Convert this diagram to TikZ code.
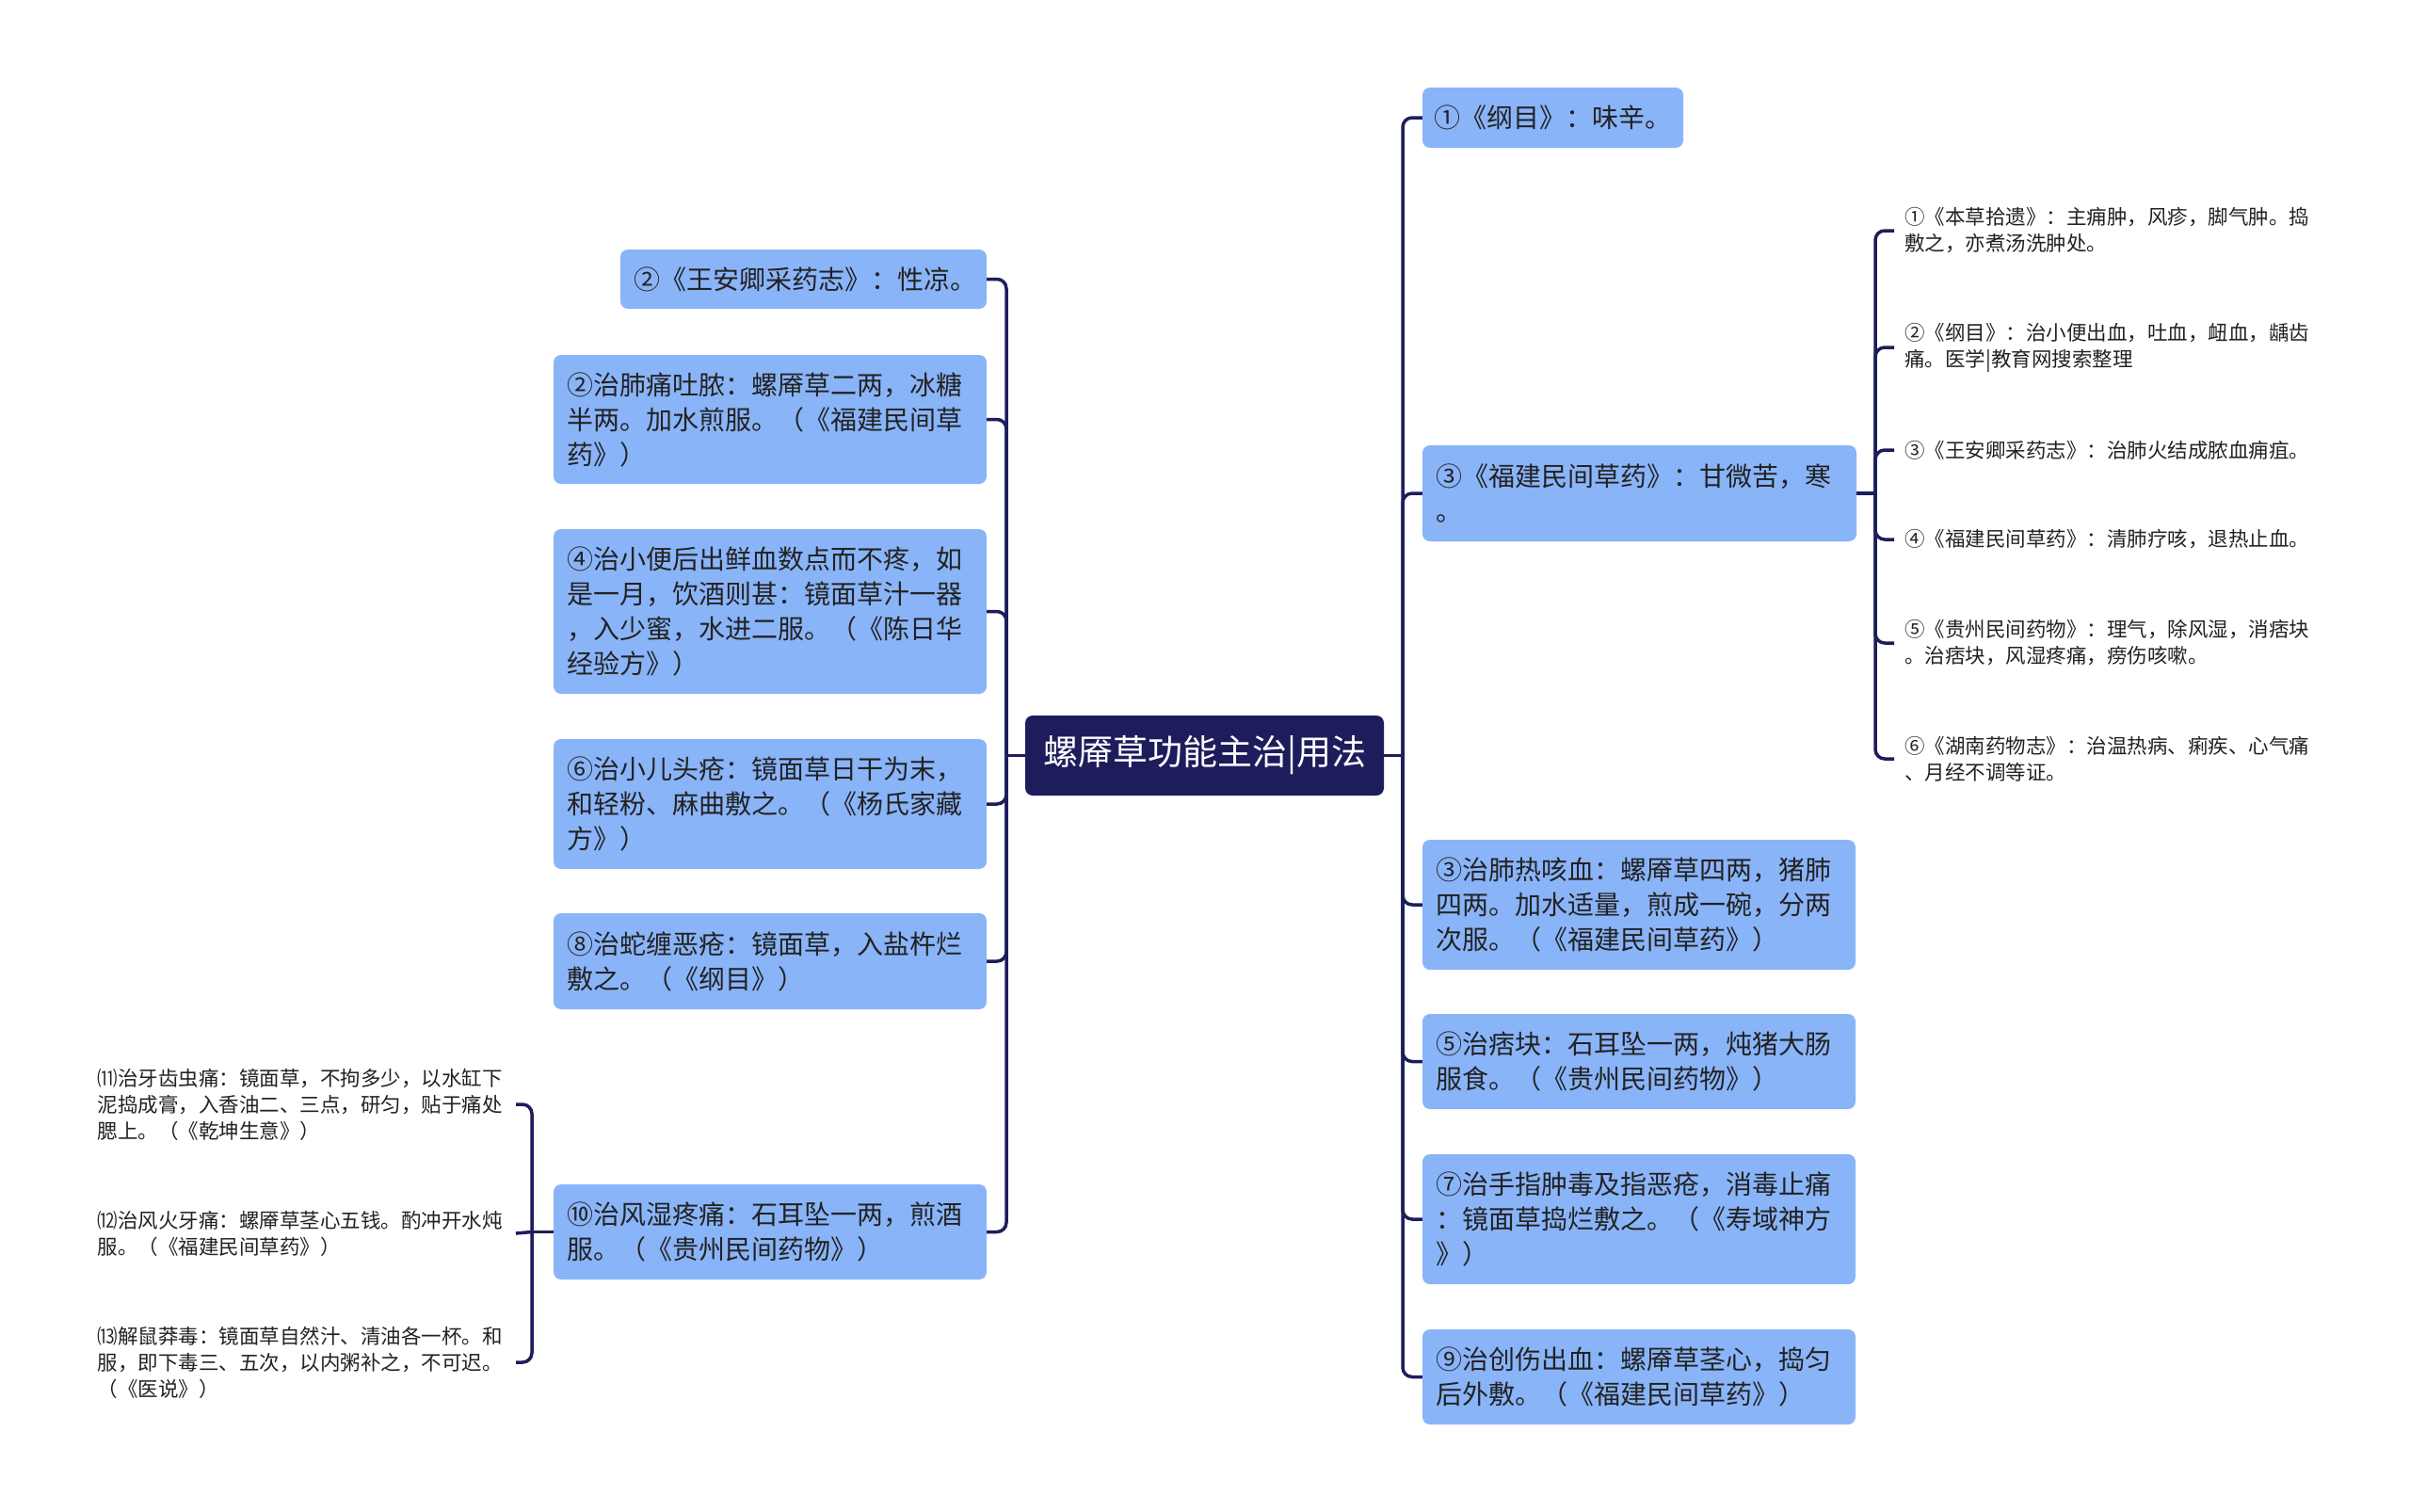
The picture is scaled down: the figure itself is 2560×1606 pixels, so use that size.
\documentclass[tikz,border=0pt]{standalone}
\usepackage{fontspec}
\newfontfamily\cjk{Noto Sans CJK SC}
\definecolor{navy}{HTML}{1E1D5C}
\definecolor{boxblue}{HTML}{8AB4F8}
\definecolor{ink}{HTML}{222222}
\begin{document}
\begin{tikzpicture}[x=1pt,y=-1pt,
  conn/.style={draw=navy, line width=3.5pt, rounded corners=10pt},
  bigbox/.style={rectangle, rounded corners=8pt, fill=boxblue, inner xsep=14pt, inner ysep=0pt, align=left, text=ink, font=\cjk\fontsize{28}{37}\selectfont},
  centre/.style={rectangle, rounded corners=8pt, fill=navy, text=white, font=\cjk\fontsize{37}{44}\selectfont, minimum width=381pt, minimum height=85pt, inner sep=0pt},
  leaf/.style={rectangle, inner xsep=10pt, inner ysep=0pt, align=left, text=ink, font=\cjk\fontsize{21.5}{28}\selectfont}]
\fill[white] (0,0) rectangle (2560,1606);
\useasboundingbox (0,0) rectangle (2560,1606);

% central
\node[centre] (C) at (1279.5,802.5) {螺厣草功能主治|用法};

% left boxes
\node[bigbox, text width=361pt, minimum height=63pt] (A1) at (853.5,296.5) {②《王安卿采药志》：性凉。};
\node[bigbox, text width=432pt, minimum height=137pt] (A2) at (818,445.5) {②治肺痛吐脓：螺厣草二两，冰糖\\半两。加水煎服。（《福建民间草\\药》）};
\node[bigbox, text width=432pt, minimum height=175pt] (A3) at (818,649.5) {④治小便后出鲜血数点而不疼，如\\是一月，饮酒则甚：镜面草汁一器\\，入少蜜，水进二服。（《陈日华\\经验方》）};
\node[bigbox, text width=432pt, minimum height=138pt] (A4) at (818,854) {⑥治小儿头疮：镜面草日干为末，\\和轻粉、麻曲敷之。（《杨氏家藏\\方》）};
\node[bigbox, text width=432pt, minimum height=102pt] (A5) at (818,1021) {⑧治蛇缠恶疮：镜面草，入盐杵烂\\敷之。（《纲目》）};
\node[bigbox, text width=432pt, minimum height=101pt] (A6) at (818,1308.5) {⑩治风湿疼痛：石耳坠一两，煎酒\\服。（《贵州民间药物》）};

% left leaves
\node[leaf, text width=434pt, anchor=east] (B1) at (548,1173) {⑾治牙齿虫痛：镜面草，不拘多少，以水缸下\\泥捣成膏，入香油二、三点，研匀，贴于痛处\\腮上。（《乾坤生意》）};
\node[leaf, text width=434pt, anchor=east] (B2) at (548,1310) {⑿治风火牙痛：螺厣草茎心五钱。酌冲开水炖\\服。（《福建民间草药》）};
\node[leaf, text width=434pt, anchor=east] (B3) at (548,1447) {⒀解鼠莽毒：镜面草自然汁、清油各一杯。和\\服，即下毒三、五次，以内粥补之，不可迟。\\（《医说》）};

% right boxes
\node[bigbox, inner xsep=12pt, text width=253pt, minimum height=64pt] (R1) at (1649.5,125) {①《纲目》：味辛。};
\node[bigbox, text width=433pt, minimum height=102pt] (R2) at (1741.5,524) {③《福建民间草药》：甘微苦，寒\\。};
\node[bigbox, text width=432pt, minimum height=138pt] (R3) at (1741,961) {③治肺热咳血：螺厣草四两，猪肺\\四两。加水适量，煎成一碗，分两\\次服。（《福建民间草药》）};
\node[bigbox, text width=432pt, minimum height=101pt] (R4) at (1741,1127.5) {⑤治痞块：石耳坠一两，炖猪大肠\\服食。（《贵州民间药物》）};
\node[bigbox, text width=432pt, minimum height=138pt] (R5) at (1741,1295) {⑦治手指肿毒及指恶疮，消毒止痛\\：镜面草捣烂敷之。（《寿域神方\\》）};
\node[bigbox, text width=432pt, minimum height=101pt] (R6) at (1741,1462.5) {⑨治创伤出血：螺厣草茎心，捣匀\\后外敷。（《福建民间草药》）};

% right leaves
\node[leaf, inner xsep=11pt, text width=440pt, anchor=west] (L1) at (2012,245) {①《本草拾遗》：主痈肿，风疹，脚气肿。捣\\敷之，亦煮汤洗肿处。};
\node[leaf, inner xsep=11pt, text width=440pt, anchor=west] (L2) at (2012,369) {②《纲目》：治小便出血，吐血，衄血，龋齿\\痛。医学|教育网搜索整理};
\node[leaf, inner xsep=11pt, text width=440pt, anchor=west] (L3) at (2012,478) {③《王安卿采药志》：治肺火结成脓血痈疽。};
\node[leaf, inner xsep=11pt, text width=440pt, anchor=west] (L4) at (2012,573) {④《福建民间草药》：清肺疗咳，退热止血。};
\node[leaf, inner xsep=11pt, text width=440pt, anchor=west] (L5) at (2012,683) {⑤《贵州民间药物》：理气，除风湿，消痞块\\。治痞块，风湿疼痛，痨伤咳嗽。};
\node[leaf, inner xsep=11pt, text width=440pt, anchor=west] (L6) at (2012,806) {⑥《湖南药物志》：治温热病、痢疾、心气痛\\、月经不调等证。};

% bracket points
\coordinate (bl) at (1069,802.5);
\coordinate (br) at (1490,802.5);
\coordinate (br2) at (1992,524);
\coordinate (bl2) at (565,1308.5);

% connectors
\draw[conn] (C.west) -- (bl);
\draw[conn] (C.east) -- (br);
\foreach \n in {A1,A2,A3,A4,A5,A6} \draw[conn] (bl) |- (\n.east);
\foreach \n in {R1,R2,R3,R4,R5,R6} \draw[conn] (br) |- (\n.west);
\draw[conn] (R2.east) -- (br2);
\foreach \n in {L1,L2,L3,L4,L5,L6} \draw[conn] (br2) |- (\n.west);
\draw[conn] (A6.west) -- (bl2);
\foreach \n in {B1,B3} \draw[conn] (bl2) |- (\n.east);
\draw[conn] (bl2) -- (B2.east);
\end{tikzpicture}
\end{document}
